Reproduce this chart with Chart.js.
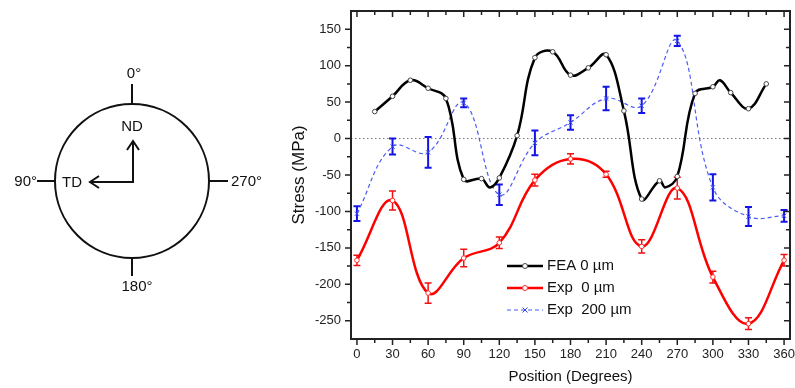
<!DOCTYPE html>
<html>
<head>
<meta charset="utf-8">
<script src="https://cdn.jsdelivr.net/npm/chart.js@4.4.1/dist/chart.umd.min.js"></script>
<style>
  html, body { margin: 0; padding: 0; background: #fff; }
  #wrap { position: relative; width: 795px; height: 388px; }
  canvas { position: absolute; left: 0; top: 0; }
</style>
</head>
<body>
<div id="wrap">
  <canvas id="sketch" width="280" height="388"></canvas>
  <canvas id="stressChart" width="795" height="388"></canvas>
</div>
<script>
// tick labels
const xTicks = [0, 30, 60, 90, 120, 150, 180, 210, 240, 270, 300, 330, 360];
const yTicks = [-250, -200, -150, -100, -50, 0, 50, 100, 150];

// FEA 0 um - marked every 15 deg, plus a few unmarked points where the spline dips
const feaPos = [15, 30, 45, 60, 75, 90, 105, 112, 120, 135, 150, 165, 180, 195, 210, 225,
  240, 255, 260, 270, 285, 300, 306, 315, 330, 345];
const feaStress = [37, 58, 80, 69, 55, -56, -55, -67, -54, 4, 111, 119, 87, 97, 115, 38,
  -83, -58, -67, -52, 62, 71, 80, 63, 41, 75];

// measured points, every 30 deg
const expPos = [0, 30, 60, 90, 120, 150, 180, 210, 240, 270, 300, 330, 360];
const exp0Stress = [-167, -85, -212, -164, -143, -57, -28, -49, -148, -68, -190, -254, -167];
const exp0Err = [7, 13, 14, 12, 8, 8, 7, 4, 9, 15, 8, 8, 8];
const exp200Stress = [-103, -11, -19, 49, -77, -6, 22, 55, 45, 134, -67, -107, -106];
const exp200Err = [10, 11, 21, 6, 14, 17, 10, 16, 10, 7, 18, 13, 8];

const FONT = 'Liberation Sans, Arial, sans-serif';

// ---- orientation sketch on the left
const sk = document.getElementById('sketch').getContext('2d');
sk.strokeStyle = '#111';
sk.lineWidth = 2;
sk.beginPath();
sk.arc(132, 181, 77, 0, Math.PI * 2);
sk.stroke();
sk.beginPath();
sk.moveTo(132, 84); sk.lineTo(132, 104);
sk.moveTo(132, 258); sk.lineTo(132, 276);
sk.moveTo(37, 181); sk.lineTo(55, 181);
sk.moveTo(209, 181); sk.lineTo(228, 181);
// ND / TD arrows
sk.moveTo(133, 182); sk.lineTo(133, 141);
sk.moveTo(134, 182); sk.lineTo(90, 182);
sk.moveTo(127, 150); sk.lineTo(133, 141); sk.lineTo(139, 150);
sk.moveTo(99, 176); sk.lineTo(90, 182); sk.lineTo(99, 188);
sk.stroke();
sk.fillStyle = '#111';
sk.font = '15px ' + FONT;
sk.textBaseline = 'middle';
sk.textAlign = 'center';
sk.fillText('0°', 134, 74);
sk.fillText('180°', 137, 287);
sk.fillText('ND', 132, 127);
sk.fillText('TD', 72, 183);
sk.textAlign = 'right';
sk.fillText('90°', 37, 182);
sk.textAlign = 'left';
sk.fillText('270°', 231, 182);

// ---- plugins
function errorBars(ctx, xs, ys, errs, x, y, color, width) {
  ctx.strokeStyle = color;
  ctx.lineWidth = width;
  ctx.setLineDash([]);
  xs.forEach((p, i) => {
    const px = x.getPixelForValue(p);
    const top = y.getPixelForValue(ys[i] + errs[i]);
    const bot = y.getPixelForValue(ys[i] - errs[i]);
    ctx.beginPath();
    ctx.moveTo(px, top); ctx.lineTo(px, bot);
    ctx.moveTo(px - 3.5, top); ctx.lineTo(px + 3.5, top);
    ctx.moveTo(px - 3.5, bot); ctx.lineTo(px + 3.5, bot);
    ctx.stroke();
  });
}

const underlay = {
  id: 'underlay',
  beforeDatasetsDraw(chart) {
    const { ctx, chartArea: a, scales: { x, y } } = chart;
    ctx.save();
    // zero line
    ctx.strokeStyle = '#777';
    ctx.lineWidth = 1;
    ctx.setLineDash([1.5, 2.5]);
    ctx.beginPath();
    ctx.moveTo(a.left, y.getPixelForValue(0));
    ctx.lineTo(a.right, y.getPixelForValue(0));
    ctx.stroke();
    errorBars(ctx, expPos, exp0Stress, exp0Err, x, y, '#f01010', 1.5);
    errorBars(ctx, expPos, exp200Stress, exp200Err, x, y, '#1414e6', 2);
    ctx.restore();
  }
};

const frame = {
  id: 'frame',
  afterDraw(chart) {
    const { ctx, chartArea: a, scales: { x, y } } = chart;
    ctx.save();
    ctx.strokeStyle = '#222';
    ctx.lineWidth = 2;
    ctx.strokeRect(a.left, a.top, a.right - a.left, a.bottom - a.top);
    ctx.lineWidth = 1.5;
    ctx.beginPath();
    const xStep = xTicks[1] - xTicks[0];
    for (let v = xTicks[0]; v <= xTicks[xTicks.length - 1]; v += xStep / 2) {
      const px = x.getPixelForValue(v);
      const len = xTicks.includes(v) ? 6 : 4;
      ctx.moveTo(px, a.bottom); ctx.lineTo(px, a.bottom + len);
      ctx.moveTo(px, a.top); ctx.lineTo(px, a.top + len);
    }
    const yStep = yTicks[1] - yTicks[0];
    for (let v = yTicks[0] - yStep / 2; v <= yTicks[yTicks.length - 1] + yStep / 2; v += yStep / 2) {
      const py = y.getPixelForValue(v);
      if (py < a.top + 1 || py > a.bottom - 1) continue;
      const len = yTicks.includes(v) ? 6 : 4;
      ctx.moveTo(a.left, py); ctx.lineTo(a.left - len, py);
      ctx.moveTo(a.right, py); ctx.lineTo(a.right - len, py);
    }
    ctx.stroke();

    // legend inside the plot
    const rows = [266, 288, 310];
    const x0 = 507, x1 = 543, xm = 525;
    chart.data.datasets.forEach((ds, i) => {
      const ry = rows[i];
      ctx.strokeStyle = ds.borderColor;
      ctx.lineWidth = ds.borderWidth;
      ctx.setLineDash(ds.borderDash || []);
      ctx.beginPath();
      ctx.moveTo(x0, ry); ctx.lineTo(x1, ry);
      ctx.stroke();
      ctx.setLineDash([]);
      ctx.lineWidth = 1;
      ctx.strokeStyle = ds.pointBorderColor;
      ctx.beginPath();
      if (ds.pointStyle === 'crossRot') {
        ctx.moveTo(xm - 2.5, ry - 2.5); ctx.lineTo(xm + 2.5, ry + 2.5);
        ctx.moveTo(xm - 2.5, ry + 2.5); ctx.lineTo(xm + 2.5, ry - 2.5);
        ctx.stroke();
      } else {
        ctx.fillStyle = '#fff';
        ctx.arc(xm, ry, 2.5, 0, Math.PI * 2);
        ctx.fill();
        ctx.stroke();
      }
      ctx.fillStyle = '#111';
      ctx.font = '15px ' + FONT;
      ctx.textBaseline = 'middle';
      ctx.textAlign = 'left';
      ctx.fillText(ds.label, 547, ry);
    });
    ctx.restore();
  }
};

const xy = (xs, ys) => xs.map((v, i) => ({ x: v, y: ys[i] }));

new Chart(document.getElementById('stressChart'), {
  type: 'line',
  data: {
    datasets: [{
      label: 'FEA 0 \u00b5m',
      data: xy(feaPos, feaStress),
      borderColor: '#000',
      borderWidth: 2.5,
      tension: 0.4,
      pointStyle: 'circle',
      pointRadius: ctx => (ctx.raw && ctx.raw.x % 15 === 0 ? 2.3 : 0),
      pointBorderWidth: 1,
      pointBorderColor: '#444',
      pointBackgroundColor: '#fff'
    }, {
      label: 'Exp  0 \u00b5m',
      data: xy(expPos, exp0Stress),
      borderColor: '#ff0000',
      borderWidth: 2.5,
      tension: 0.4,
      pointStyle: 'circle',
      pointRadius: 2.3,
      pointBorderWidth: 1,
      pointBorderColor: '#ff3030',
      pointBackgroundColor: '#fff'
    }, {
      label: 'Exp  200 \u00b5m',
      data: xy(expPos, exp200Stress),
      borderColor: '#4b5cf2',
      borderWidth: 1.2,
      borderDash: [4, 3],
      tension: 0.4,
      pointStyle: 'crossRot',
      pointRadius: 3,
      pointBorderWidth: 1,
      pointBorderColor: '#3344ee',
      pointBackgroundColor: '#3344ee'
    }]
  },
  options: {
    responsive: false,
    devicePixelRatio: 1,
    animation: false,
    layout: { padding: { left: 280, right: 3, top: 11, bottom: 0 } },
    plugins: {
      legend: { display: false },
      tooltip: { enabled: false }
    },
    scales: {
      x: {
        type: 'linear',
        min: -5,
        max: 365,
        grid: { display: false, drawTicks: false },
        border: { display: false },
        afterBuildTicks: s => { s.ticks = xTicks.map(v => ({ value: v })); },
        afterFit: s => { s.height = 49; s.paddingLeft = 0; s.paddingRight = 0; },
        ticks: { color: '#222', font: { family: FONT, size: 13 }, padding: 8, maxRotation: 0, autoSkip: false },
        title: { display: true, text: 'Position (Degrees)', color: '#111', font: { family: FONT, size: 15 }, padding: { top: 0, bottom: 2 } }
      },
      y: {
        min: -275,
        max: 175,
        grid: { display: false, drawTicks: false },
        border: { display: false },
        afterBuildTicks: s => { s.ticks = yTicks.map(v => ({ value: v })); },
        afterFit: s => { s.width = 71; s.paddingTop = 0; s.paddingBottom = 0; },
        ticks: { color: '#222', font: { family: FONT, size: 13 }, padding: 10 },
        title: { display: true, text: 'Stress (MPa)', color: '#111', font: { family: FONT, size: 17 }, padding: { top: 9, bottom: 0 } }
      }
    }
  },
  plugins: [underlay, frame]
});
</script>
</body>
</html>
